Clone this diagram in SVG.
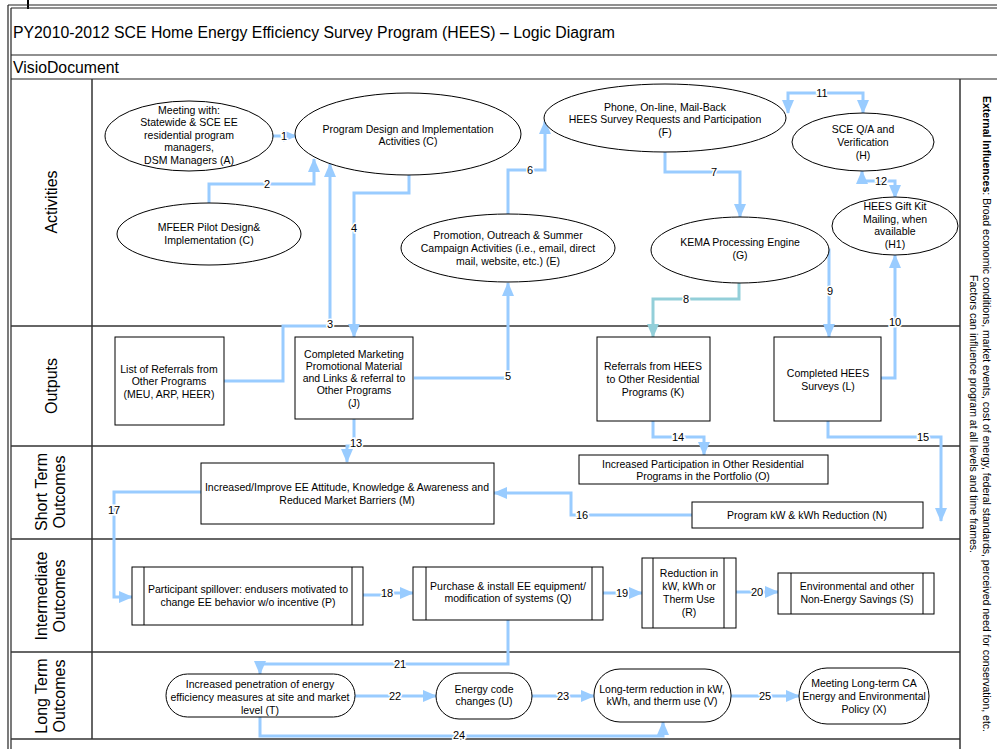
<svg xmlns="http://www.w3.org/2000/svg" width="997" height="749" viewBox="0 0 997 749">
  <style>
    .frame { stroke: #222; stroke-width: 1.2; fill: none; }
    .lane { stroke: #333; stroke-width: 1.5; fill: none; }
    .node { fill: #fff; stroke: #000; stroke-width: 1; }
    .t { font-family: "Liberation Sans", Arial, sans-serif; font-size: 10.5px; fill: #000; text-anchor: middle; }
    .lanelbl { font-family: "Liberation Sans", Arial, sans-serif; font-size: 16px; fill: #000; text-anchor: middle; }
    .head { font-family: "Liberation Sans", Arial, sans-serif; font-size: 15.8px; fill: #000; }
    .ext { font-family: "Liberation Sans", Arial, sans-serif; font-size: 10.5px; fill: #000; text-anchor: middle; }
    .c { fill: none; stroke: #99ccff; stroke-width: 3; marker-end: url(#ah); }
    .c2 { fill: none; stroke: #99ccff; stroke-width: 3; marker-end: url(#ah); marker-start: url(#ah); }
    .ct { fill: none; stroke: #93cfd9; stroke-width: 3; marker-end: url(#aht); }
    .n { font-family: "Liberation Sans", Arial, sans-serif; font-size: 11px; fill: #000; text-anchor: middle; stroke: #fff; stroke-width: 3; paint-order: stroke; }
  </style>
  <defs>
    <marker id="ah" viewBox="0 0 14 12" refX="13" refY="6" markerWidth="14" markerHeight="12" markerUnits="userSpaceOnUse" orient="auto-start-reverse">
      <path d="M0,0 L14,6 L0,12 z" fill="#99ccff"/>
    </marker>
    <marker id="aht" viewBox="0 0 14 12" refX="13" refY="6" markerWidth="14" markerHeight="12" markerUnits="userSpaceOnUse" orient="auto">
      <path d="M0,0 L14,6 L0,12 z" fill="#93cfd9"/>
    </marker>
  </defs>

  <rect width="997" height="749" fill="#fff"/>

  <!-- page frame -->
  <g id="frame">
    <line x1="28" y1="0" x2="28" y2="9" stroke="#000" stroke-width="2"/>
    <line class="frame" x1="8" y1="5" x2="997" y2="5"/>
    <line class="frame" x1="11" y1="8" x2="997" y2="8"/>
    <line class="frame" x1="8" y1="5" x2="8" y2="749"/>
    <line class="frame" x1="11" y1="8" x2="11" y2="749"/>
    <line class="frame" x1="11" y1="55" x2="997" y2="55"/>
    <line class="frame" x1="11" y1="79" x2="997" y2="79"/>
    <text class="head" x="13" y="38">PY2010-2012 SCE Home Energy Efficiency Survey Program (HEES) – Logic Diagram</text>
    <text class="head" x="13" y="73">VisioDocument</text>
  </g>

  <!-- swimlanes -->
  <g id="lanes">
    <line class="lane" x1="92" y1="79" x2="92" y2="739"/>
    <line class="lane" x1="960" y1="79" x2="960" y2="749"/>
    <line class="lane" x1="11" y1="326" x2="960" y2="326"/>
    <line class="lane" x1="11" y1="446" x2="960" y2="446"/>
    <line class="lane" x1="11" y1="539" x2="960" y2="539"/>
    <line class="lane" x1="11" y1="652" x2="960" y2="652"/>
    <line class="lane" x1="11" y1="739" x2="960" y2="739"/>
    <text class="lanelbl" transform="translate(57,202) rotate(-90)">Activities</text>
    <text class="lanelbl" transform="translate(57,386) rotate(-90)">Outputs</text>
    <text class="lanelbl" transform="translate(47,492) rotate(-90)">Short Term</text>
    <text class="lanelbl" transform="translate(65,492) rotate(-90)">Outcomes</text>
    <text class="lanelbl" transform="translate(47,596) rotate(-90)">Intermediate</text>
    <text class="lanelbl" transform="translate(65,596) rotate(-90)">Outcomes</text>
    <text class="lanelbl" transform="translate(47,696) rotate(-90)">Long Term</text>
    <text class="lanelbl" transform="translate(65,696) rotate(-90)">Outcomes</text>
  </g>

  <!-- external influences column -->
  <g id="external">
    <text class="ext" transform="translate(983,414) rotate(90)"><tspan font-weight="bold">External Influences</tspan>: Broad economic conditions, market events, cost of energy, federal standards, perceived need for conservation, etc.</text>
    <text class="ext" transform="translate(970,414) rotate(90)">Factors can influence program at all levels and time frames.</text>
  </g>

  <!-- connectors -->
  <g id="connectors">
    <path class="c" d="M272,136 H296"/>
    <path class="c" d="M209,203 V184 H314 V159"/>
    <path class="c" d="M224,381 H283 V326 H330 V164"/>
    <path class="c" d="M409,175 V193 H354 V337"/>
    <path class="c" d="M414,378 H508 V283"/>
    <path class="c" d="M508,214 V170 H545 V121"/>
    <path class="c" d="M665,152 V172 H740 V217"/>
    <path class="ct" d="M739,283 V299 H653 V337"/>
    <path class="c" d="M826,250 H829 V337"/>
    <path class="c" d="M881,378 H895 V255"/>
    <path class="c2" d="M788,113 V93 H863 V113"/>
    <path class="c2" d="M862,171 V181 H895 V198"/>
    <path class="c" d="M354,419 V446 H347 V462"/>
    <path class="c" d="M653,421 V437 H704 V455"/>
    <path class="c" d="M828,421 V437 H941 V521"/>
    <path class="c" d="M692,515 H571 V493 H494"/>
    <path class="c" d="M201,492 H114 V597 H132"/>
    <path class="c" d="M363,595 H383 V593 H413"/>
    <path class="c" d="M603,593 H642"/>
    <path class="c" d="M736,592 H778"/>
    <path class="c" d="M508,620 V664 H260 V674"/>
    <path class="c" d="M355,696 H436"/>
    <path class="c" d="M532,696 H594"/>
    <path class="c" d="M260,717 V736 H663 V722"/>
    <path class="c" d="M731,696 H799"/>

    <text class="n" x="284" y="140">1</text>
    <text class="n" x="267" y="188">2</text>
    <text class="n" x="330" y="328">3</text>
    <text class="n" x="354" y="232">4</text>
    <text class="n" x="508" y="380">5</text>
    <text class="n" x="530" y="174">6</text>
    <text class="n" x="714" y="176">7</text>
    <text class="n" x="686" y="303">8</text>
    <text class="n" x="830" y="295">9</text>
    <text class="n" x="895" y="326">10</text>
    <text class="n" x="822" y="97">11</text>
    <text class="n" x="881" y="185">12</text>
    <text class="n" x="356" y="447">13</text>
    <text class="n" x="678" y="441">14</text>
    <text class="n" x="923" y="441">15</text>
    <text class="n" x="582" y="519">16</text>
    <text class="n" x="114" y="514">17</text>
    <text class="n" x="387" y="597">18</text>
    <text class="n" x="622" y="597">19</text>
    <text class="n" x="757" y="596">20</text>
    <text class="n" x="400" y="668">21</text>
    <text class="n" x="395" y="700">22</text>
    <text class="n" x="563" y="700">23</text>
    <text class="n" x="459" y="739">24</text>
    <text class="n" x="765" y="700">25</text>
  </g>

  <!-- Activities -->
  <g id="nodeA">
    <ellipse class="node" cx="189" cy="136" rx="84" ry="35"/>
    <text class="t" x="189" y="114">Meeting with:</text>
    <text class="t" x="189" y="126">Statewide &amp; SCE EE</text>
    <text class="t" x="189" y="139">residential program</text>
    <text class="t" x="189" y="151">managers,</text>
    <text class="t" x="189" y="164">DSM Managers (A)</text>
  </g>
  <g id="nodeMFEER">
    <ellipse class="node" cx="209" cy="234" rx="92" ry="31"/>
    <text class="t" x="209" y="231">MFEER Pilot Design&amp;</text>
    <text class="t" x="209" y="244">Implementation (C)</text>
  </g>
  <g id="nodeC">
    <ellipse class="node" cx="408" cy="134" rx="113" ry="41"/>
    <text class="t" x="408" y="133">Program Design and Implementation</text>
    <text class="t" x="408" y="145">Activities (C)</text>
  </g>
  <g id="nodeE">
    <ellipse class="node" cx="508" cy="248" rx="107" ry="34"/>
    <text class="t" x="508" y="239">Promotion, Outreach &amp; Summer</text>
    <text class="t" x="508" y="252">Campaign Activities (i.e., email, direct</text>
    <text class="t" x="508" y="265">mail, website, etc.) (E)</text>
  </g>
  <g id="nodeF">
    <ellipse class="node" cx="665" cy="118" rx="121" ry="34"/>
    <text class="t" x="665" y="111">Phone, On-line, Mail-Back</text>
    <text class="t" x="665" y="123">HEES Survey Requests and Participation</text>
    <text class="t" x="665" y="136">(F)</text>
  </g>
  <g id="nodeG">
    <ellipse class="node" cx="740" cy="250" rx="89" ry="33"/>
    <text class="t" x="740" y="246">KEMA Processing Engine</text>
    <text class="t" x="740" y="259">(G)</text>
  </g>
  <g id="nodeH">
    <ellipse class="node" cx="863" cy="142" rx="71" ry="29"/>
    <text class="t" x="863" y="133">SCE Q/A and</text>
    <text class="t" x="863" y="146">Verification</text>
    <text class="t" x="863" y="159">(H)</text>
  </g>
  <g id="nodeH1">
    <ellipse class="node" cx="895" cy="226" rx="63" ry="29"/>
    <text class="t" x="895" y="210">HEES Gift Kit</text>
    <text class="t" x="895" y="223">Mailing, when</text>
    <text class="t" x="895" y="235">available</text>
    <text class="t" x="895" y="248">(H1)</text>
  </g>

  <!-- Outputs -->
  <g id="nodeRef">
    <rect class="node" x="115" y="337" width="109" height="88"/>
    <text class="t" x="169" y="373">List of Referrals from</text>
    <text class="t" x="169" y="385">Other Programs</text>
    <text class="t" x="169" y="398">(MEU, ARP, HEER)</text>
  </g>
  <g id="nodeJ">
    <rect class="node" x="295" y="337" width="118" height="82"/>
    <text class="t" x="354" y="358">Completed Marketing</text>
    <text class="t" x="354" y="370">Promotional Material</text>
    <text class="t" x="354" y="382">and Links &amp; referral to</text>
    <text class="t" x="354" y="394">Other Programs</text>
    <text class="t" x="354" y="407">(J)</text>
  </g>
  <g id="nodeK">
    <rect class="node" x="597" y="337" width="113" height="84"/>
    <text class="t" x="653" y="370">Referrals from HEES</text>
    <text class="t" x="653" y="383">to Other Residential</text>
    <text class="t" x="653" y="396">Programs (K)</text>
  </g>
  <g id="nodeL">
    <rect class="node" x="774" y="337" width="107" height="84"/>
    <text class="t" x="828" y="377">Completed HEES</text>
    <text class="t" x="828" y="390">Surveys (L)</text>
  </g>

  <!-- Short term outcomes -->
  <g id="nodeM">
    <rect class="node" x="201" y="463" width="293" height="61"/>
    <text class="t" x="347" y="491">Increased/Improve EE Attitude, Knowledge &amp; Awareness and</text>
    <text class="t" x="347" y="504">Reduced Market Barriers (M)</text>
  </g>
  <g id="nodeO">
    <rect class="node" x="579" y="455" width="249" height="29"/>
    <text class="t" x="703" y="468">Increased Participation in Other Residential</text>
    <text class="t" x="703" y="480">Programs in the Portfolio (O)</text>
  </g>
  <g id="nodeN">
    <rect class="node" x="692" y="502" width="231" height="26"/>
    <text class="t" x="807" y="519">Program kW &amp; kWh Reduction (N)</text>
  </g>

  <!-- Intermediate outcomes -->
  <g id="nodeP">
    <rect class="node" x="132" y="567" width="231" height="58"/>
    <line class="node" x1="144" y1="567" x2="144" y2="625"/>
    <line class="node" x1="352" y1="567" x2="352" y2="625"/>
    <text class="t" x="248" y="593">Participant spillover: endusers motivated to</text>
    <text class="t" x="248" y="606">change EE behavior w/o incentive (P)</text>
  </g>
  <g id="nodeQ">
    <rect class="node" x="413" y="567" width="190" height="53"/>
    <line class="node" x1="426" y1="567" x2="426" y2="620"/>
    <line class="node" x1="592" y1="567" x2="592" y2="620"/>
    <text class="t" x="508" y="590">Purchase &amp; install EE equipment/</text>
    <text class="t" x="508" y="602">modification of systems (Q)</text>
  </g>
  <g id="nodeR">
    <rect class="node" x="642" y="558" width="94" height="70"/>
    <line class="node" x1="653" y1="558" x2="653" y2="628"/>
    <line class="node" x1="724" y1="558" x2="724" y2="628"/>
    <text class="t" x="689" y="577">Reduction in</text>
    <text class="t" x="689" y="590">kW, kWh or</text>
    <text class="t" x="689" y="603">Therm Use</text>
    <text class="t" x="689" y="616">(R)</text>
  </g>
  <g id="nodeS">
    <rect class="node" x="778" y="573" width="156" height="41"/>
    <line class="node" x1="791" y1="573" x2="791" y2="614"/>
    <line class="node" x1="923" y1="573" x2="923" y2="614"/>
    <text class="t" x="857" y="590">Environmental and other</text>
    <text class="t" x="857" y="603">Non-Energy Savings (S)</text>
  </g>

  <!-- Long term outcomes -->
  <g id="nodeT">
    <rect class="node" x="166" y="674" width="189" height="43" rx="21.5" ry="21.5"/>
    <text class="t" x="260" y="688">Increased penetration of energy</text>
    <text class="t" x="260" y="701">efficiency measures at site and market</text>
    <text class="t" x="260" y="714">level (T)</text>
  </g>
  <g id="nodeU">
    <rect class="node" x="436" y="673" width="96" height="46" rx="23" ry="23"/>
    <text class="t" x="484" y="693">Energy code</text>
    <text class="t" x="484" y="705">changes (U)</text>
  </g>
  <g id="nodeV">
    <rect class="node" x="594" y="669" width="137" height="53" rx="26" ry="26"/>
    <text class="t" x="662" y="693">Long-term reduction in kW,</text>
    <text class="t" x="662" y="705">kWh, and therm use (V)</text>
  </g>
  <g id="nodeX">
    <rect class="node" x="799" y="668" width="130" height="56" rx="28" ry="28"/>
    <text class="t" x="864" y="687">Meeting Long-term CA</text>
    <text class="t" x="864" y="700">Energy and Environmental</text>
    <text class="t" x="864" y="713">Policy (X)</text>
  </g>
</svg>
